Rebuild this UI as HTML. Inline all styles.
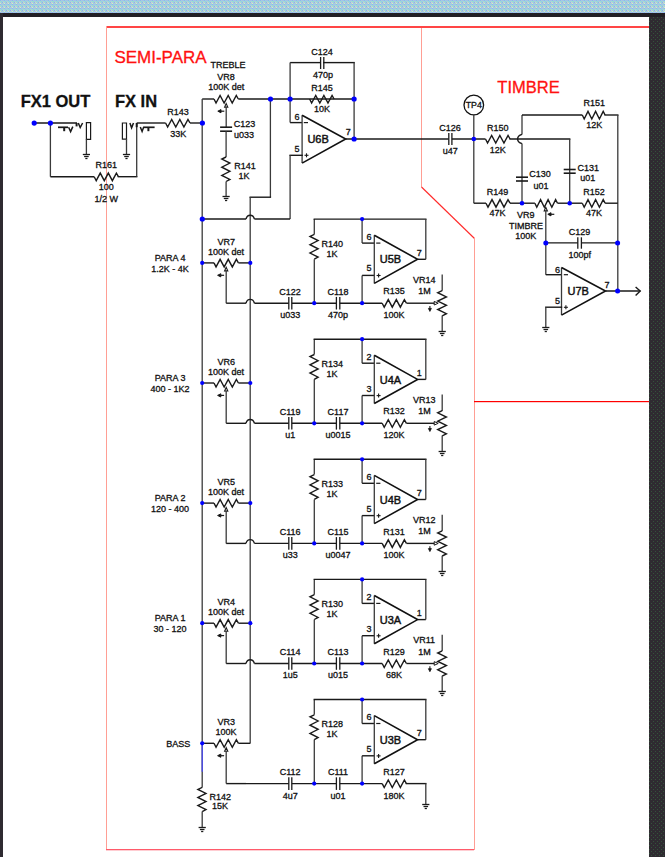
<!DOCTYPE html>
<html><head><meta charset="utf-8"><style>
html,body{margin:0;padding:0;background:#fff;}
body{width:665px;height:857px;overflow:hidden;position:relative;}
svg{position:absolute;left:0;top:0;display:block;}
text{font-family:"Liberation Sans",sans-serif;}
</style></head><body>
<svg width="665" height="857" viewBox="0 0 665 857">
<defs>
<pattern id="dith" width="4" height="4" patternUnits="userSpaceOnUse">
<rect width="4" height="4" fill="#a2dccf"/>
<rect x="0" y="0" width="1" height="1" fill="#8eb2f2"/>
<rect x="2" y="0" width="1" height="1" fill="#b2b0ee"/>
<rect x="1" y="1" width="1" height="1" fill="#92c2f4"/>
<rect x="3" y="2" width="1" height="1" fill="#d8c0dc"/>
<rect x="2" y="2" width="1" height="1" fill="#8eaaf2"/>
<rect x="0" y="3" width="1" height="1" fill="#e2e2c8"/>
<rect x="3" y="0" width="1" height="1" fill="#98c8ee"/>
<rect x="1" y="3" width="1" height="1" fill="#a2b6f0"/>
</pattern>
<pattern id="dark" width="4" height="4" patternUnits="userSpaceOnUse">
<rect width="4" height="4" fill="#2f2b31"/>
<rect x="1" y="1" width="1" height="1" fill="#34533a"/>
<rect x="3" y="3" width="1" height="1" fill="#34533a"/>
</pattern>
</defs>
<rect width="665" height="857" fill="#fff"/>
<rect x="0" y="0" width="665" height="13" fill="url(#dith)"/>
<rect x="0" y="13" width="665" height="4" fill="#221f25"/>
<rect x="0" y="13" width="3" height="844" fill="#2e2a31"/>
<rect x="649" y="17" width="16" height="840" fill="url(#dark)"/>
<rect x="106" y="26" width="543" height="2" fill="#ff4545"/>
<rect x="106" y="26" width="1" height="824" fill="#ff9e94"/>
<rect x="106" y="849" width="368" height="1.3" fill="#ff5a6a"/>
<rect x="421" y="28" width="1" height="159" fill="#ff9e94"/>
<line x1="421.5" y1="187" x2="474.5" y2="238.5" stroke="#ff2a2a" stroke-width="1.1"/>
<rect x="474" y="238" width="1" height="612" fill="#ff9e94"/>
<rect x="474" y="401" width="175" height="1.2" fill="#ff0000"/>
<polyline points="34,123 77,123" fill="none" stroke="#1a1a1a" stroke-width="1.4"/>
<polyline points="76.6,123 76.6,126.4" fill="none" stroke="#1a1a1a" stroke-width="2.0"/>
<polyline points="78.3,123 80.2,127.5 82.6,123" fill="none" stroke="#1a1a1a" stroke-width="1.5"/>
<polyline points="58,127.3 68,127.3" fill="none" stroke="#1a1a1a" stroke-width="1.7"/>
<polyline points="64.2,127.3 64.2,131.2" fill="none" stroke="#1a1a1a" stroke-width="2.0"/>
<polyline points="68.6,127.3 70.6,131.6 72.8,126.6" fill="none" stroke="#1a1a1a" stroke-width="1.5"/>
<path d="M86.4,122.7 H90.6 V139.3 H86.4 Z" fill="none" stroke="#1a1a1a" stroke-width="1.2"/>
<line x1="86.4" y1="139.3" x2="86.4" y2="154.7" stroke="#3a3a3a" stroke-width="1.3"/>
<polyline points="82.8,154.5 90,154.5" fill="none" stroke="#1a1a1a" stroke-width="1.3"/>
<polyline points="84.1,156.5 88.7,156.5" fill="none" stroke="#1a1a1a" stroke-width="1.3"/>
<polyline points="85.3,158.5 87.5,158.5" fill="none" stroke="#1a1a1a" stroke-width="1.3"/>
<line x1="50.4" y1="123" x2="50.4" y2="176.7" stroke="#3a3a3a" stroke-width="1.3"/>
<polyline points="50.4,176.7 94.2,176.7" fill="none" stroke="#1a1a1a" stroke-width="1.4"/>
<polyline points="94.2,176.7 96.22,180.7 100.25,173.1 104.28,180.7 108.32,173.1 112.35,180.7 116.38,173.1 118.4,176.7" fill="none" stroke="#1a1a1a" stroke-width="1.4"/>
<polyline points="118.4,176.7 136.7,176.7" fill="none" stroke="#1a1a1a" stroke-width="1.4" stroke-linecap="square"/>
<line x1="136.7" y1="176.7" x2="136.7" y2="123" stroke="#3a3a3a" stroke-width="1.3"/>
<polyline points="136.7,123 165.6,123" fill="none" stroke="#1a1a1a" stroke-width="1.4"/>
<path d="M122.4,123 H126.5 V139.2 H122.4 Z" fill="none" stroke="#1a1a1a" stroke-width="1.2"/>
<line x1="126.5" y1="139.2" x2="126.5" y2="154.8" stroke="#3a3a3a" stroke-width="1.3"/>
<polyline points="122.9,154.5 130.1,154.5" fill="none" stroke="#1a1a1a" stroke-width="1.3"/>
<polyline points="124.2,156.5 128.8,156.5" fill="none" stroke="#1a1a1a" stroke-width="1.3"/>
<polyline points="125.4,158.5 127.6,158.5" fill="none" stroke="#1a1a1a" stroke-width="1.3"/>
<polyline points="129.9,123 131.6,127.8 133.5,123" fill="none" stroke="#1a1a1a" stroke-width="1.5"/>
<polyline points="136.7,123 136.7,127.2" fill="none" stroke="#1a1a1a" stroke-width="2.0"/>
<polyline points="140.3,127 142.1,131.5 143.8,126.8" fill="none" stroke="#1a1a1a" stroke-width="1.5"/>
<polyline points="143.6,127.3 154.6,127.3" fill="none" stroke="#1a1a1a" stroke-width="1.7"/>
<polyline points="148.4,127.3 148.4,131.2" fill="none" stroke="#1a1a1a" stroke-width="2.0"/>
<text x="55.5" y="107.1" font-size="16.5" text-anchor="middle" font-weight="bold" fill="#111" stroke="#111" stroke-width="0.3">FX1 OUT</text>
<text x="136" y="107.1" font-size="16.5" text-anchor="middle" font-weight="bold" fill="#111" stroke="#111" stroke-width="0.3">FX IN</text>
<text x="106.2" y="168.3" font-size="9" text-anchor="middle" font-weight="normal" fill="#111" stroke="#111" stroke-width="0.3">R161</text>
<text x="106.2" y="189.9" font-size="9" text-anchor="middle" font-weight="normal" fill="#111" stroke="#111" stroke-width="0.3">100</text>
<text x="106.2" y="201.6" font-size="9" text-anchor="middle" font-weight="normal" fill="#111" stroke="#111" stroke-width="0.3">1/2 W</text>
<polyline points="165.6,123 167.63,127 171.7,119.4 175.77,127 179.83,119.4 183.9,127 187.97,119.4 190,123" fill="none" stroke="#1a1a1a" stroke-width="1.4"/>
<polyline points="190,123 202.2,123" fill="none" stroke="#1a1a1a" stroke-width="1.4"/>
<text x="178" y="114.5" font-size="9" text-anchor="middle" font-weight="normal" fill="#111" stroke="#111" stroke-width="0.3">R143</text>
<text x="178.2" y="136.6" font-size="9" text-anchor="middle" font-weight="normal" fill="#111" stroke="#111" stroke-width="0.3">33K</text>
<text x="114.4" y="63.3" font-size="17" text-anchor="start" font-weight="normal" fill="#ff1010" stroke="#ff1010" stroke-width="0.3">SEMI-PARA</text>
<text x="497.3" y="92.5" font-size="16.5" text-anchor="start" font-weight="normal" fill="#ff1010" stroke="#ff1010" stroke-width="0.3">TIMBRE</text>
<polyline points="202.2,99 214,99" fill="none" stroke="#1a1a1a" stroke-width="1.4"/>
<polyline points="214,99 216.03,103 220.07,95.4 224.12,103 228.18,95.4 232.22,103 236.28,95.4 238.3,99" fill="none" stroke="#1a1a1a" stroke-width="1.4"/>
<polyline points="238.3,99 354.2,99" fill="none" stroke="#1a1a1a" stroke-width="1.4"/>
<line x1="202.2" y1="99" x2="202.2" y2="787.4" stroke="#3a3a3a" stroke-width="1.3"/>
<path d="M226.2,103.5 L224.6,107.1 L227.8,107.1 Z" fill="none" stroke="#1a1a1a" stroke-width="1.1"/>
<line x1="226.2" y1="107.1" x2="226.2" y2="127" stroke="#3a3a3a" stroke-width="1.3"/>
<path d="M217.8,111.2 L221,109.6 L221,112.8 Z" fill="#111" stroke="#1a1a1a" stroke-width="1.0"/>
<polyline points="220.8,111.2 224.3,111.2" fill="none" stroke="#1a1a1a" stroke-width="1.2"/>
<polyline points="220.1,127.2 232.1,127.2" fill="none" stroke="#1a1a1a" stroke-width="1.6"/>
<polyline points="220.1,131.2 232.1,131.2" fill="none" stroke="#1a1a1a" stroke-width="1.6"/>
<line x1="226.1" y1="131.2" x2="226.1" y2="157" stroke="#3a3a3a" stroke-width="1.3"/>
<polyline points="226.1,157 221.8,159.04 229.9,163.12 221.8,167.21 229.9,171.29 221.8,175.38 229.9,179.46 226.1,181.5" fill="none" stroke="#1a1a1a" stroke-width="1.4"/>
<line x1="226.1" y1="181.5" x2="226.1" y2="196.7" stroke="#3a3a3a" stroke-width="1.3"/>
<polyline points="222.5,196.5 229.7,196.5" fill="none" stroke="#1a1a1a" stroke-width="1.3"/>
<polyline points="223.8,198.5 228.4,198.5" fill="none" stroke="#1a1a1a" stroke-width="1.3"/>
<polyline points="225,200.5 227.2,200.5" fill="none" stroke="#1a1a1a" stroke-width="1.3"/>
<text x="228" y="68.4" font-size="9" text-anchor="middle" font-weight="normal" fill="#111" stroke="#111" stroke-width="0.3">TREBLE</text>
<text x="226.1" y="79.8" font-size="9" text-anchor="middle" font-weight="normal" fill="#111" stroke="#111" stroke-width="0.3">VR8</text>
<text x="226.2" y="90.3" font-size="9" text-anchor="middle" font-weight="normal" fill="#111" stroke="#111" stroke-width="0.3">100K det</text>
<text x="233.7" y="126.5" font-size="9" text-anchor="start" font-weight="normal" fill="#111" stroke="#111" stroke-width="0.3">C123</text>
<text x="234" y="138.1" font-size="9" text-anchor="start" font-weight="normal" fill="#111" stroke="#111" stroke-width="0.3">u033</text>
<text x="234.2" y="168.7" font-size="9" text-anchor="start" font-weight="normal" fill="#111" stroke="#111" stroke-width="0.3">R141</text>
<text x="244" y="178.6" font-size="9" text-anchor="middle" font-weight="normal" fill="#111" stroke="#111" stroke-width="0.3">1K</text>
<line x1="270.4" y1="99" x2="270.4" y2="197.2" stroke="#3a3a3a" stroke-width="1.3"/>
<polyline points="270.4,197.2 250.2,197.2" fill="none" stroke="#1a1a1a" stroke-width="1.4" stroke-linecap="square"/>
<line x1="250.2" y1="197.2" x2="250.2" y2="743.4" stroke="#3a3a3a" stroke-width="1.3"/>
<polyline points="290.1,62.6 320.6,62.6" fill="none" stroke="#1a1a1a" stroke-width="1.4"/>
<polyline points="323.8,62.6 354.1,62.6" fill="none" stroke="#1a1a1a" stroke-width="1.4" stroke-linecap="square"/>
<line x1="354.1" y1="62.6" x2="354.1" y2="139" stroke="#3a3a3a" stroke-width="1.3"/>
<polyline points="320.6,57 320.6,69" fill="none" stroke="#1a1a1a" stroke-width="1.3"/>
<polyline points="323.8,57 323.8,69" fill="none" stroke="#1a1a1a" stroke-width="1.3"/>
<line x1="290.1" y1="62.6" x2="290.1" y2="122.6" stroke="#3a3a3a" stroke-width="1.3"/>
<polyline points="290.1,122.6 302.1,122.6" fill="none" stroke="#1a1a1a" stroke-width="1.4"/>
<polyline points="309.6,99 311.64,103 315.73,95.4 319.81,103 323.89,95.4 327.98,103 332.06,95.4 334.1,99" fill="none" stroke="#1a1a1a" stroke-width="1.4"/>
<line x1="302.1" y1="115.3" x2="302.1" y2="163.1" stroke="#3a3a3a" stroke-width="1.3"/>
<path d="M302.1,115.3 L345.7,139 L302.1,163.1" fill="none" stroke="#111" stroke-width="1.6" stroke-linejoin="miter"/>
<polyline points="303.8,122.6 308,122.6" fill="none" stroke="#1a1a1a" stroke-width="1.2"/>
<polyline points="304.5,155.3 308.5,155.3" fill="none" stroke="#1a1a1a" stroke-width="1.1"/>
<polyline points="306.5,153.3 306.5,157.3" fill="none" stroke="#1a1a1a" stroke-width="1.1"/>
<polyline points="345.7,139 448.8,139" fill="none" stroke="#1a1a1a" stroke-width="1.4"/>
<polyline points="302.1,155.3 290.1,155.3" fill="none" stroke="#1a1a1a" stroke-width="1.4" stroke-linecap="square"/>
<line x1="290.1" y1="155.3" x2="290.1" y2="219" stroke="#3a3a3a" stroke-width="1.3"/>
<polyline points="290.1,219 254.4,219" fill="none" stroke="#1a1a1a" stroke-width="1.4"/>
<path d="M246,219 C247,215.2 248.7,215.2 250.2,215.2 C251.7,215.2 253.4,215.2 254.4,219" fill="none" stroke="#1a1a1a" stroke-width="1.4"/>
<polyline points="246,219 202.2,219" fill="none" stroke="#1a1a1a" stroke-width="1.4"/>
<text x="322" y="54.8" font-size="9" text-anchor="middle" font-weight="normal" fill="#111" stroke="#111" stroke-width="0.3">C124</text>
<text x="323" y="77.6" font-size="9" text-anchor="middle" font-weight="normal" fill="#111" stroke="#111" stroke-width="0.3">470p</text>
<text x="322" y="90.5" font-size="9" text-anchor="middle" font-weight="normal" fill="#111" stroke="#111" stroke-width="0.3">R145</text>
<text x="322" y="112.1" font-size="9" text-anchor="middle" font-weight="normal" fill="#111" stroke="#111" stroke-width="0.3">10K</text>
<text x="297" y="120" font-size="9" text-anchor="middle" font-weight="normal" fill="#111" stroke="#111" stroke-width="0.3">6</text>
<text x="297" y="152" font-size="9" text-anchor="middle" font-weight="normal" fill="#111" stroke="#111" stroke-width="0.3">5</text>
<text x="348.3" y="135.1" font-size="9" text-anchor="middle" font-weight="normal" fill="#111" stroke="#111" stroke-width="0.3">7</text>
<text x="307.4" y="143.1" font-size="11" text-anchor="start" font-weight="normal" fill="#111" stroke="#111" stroke-width="0.45">U6B</text>
<polyline points="448.8,133 448.8,145" fill="none" stroke="#1a1a1a" stroke-width="1.3"/>
<polyline points="451.9,133 451.9,145" fill="none" stroke="#1a1a1a" stroke-width="1.3"/>
<polyline points="451.9,139 485.5,139" fill="none" stroke="#1a1a1a" stroke-width="1.4"/>
<circle cx="473.8" cy="105" r="9.8" fill="none" stroke="#111" stroke-width="1.3"/>
<text x="473.8" y="108.4" font-size="8.8" text-anchor="middle" font-weight="normal" fill="#111" stroke="#111" stroke-width="0.3">TP4</text>
<line x1="473.8" y1="114.8" x2="473.8" y2="203.2" stroke="#3a3a3a" stroke-width="1.3"/>
<polyline points="473.8,203.2 486,203.2" fill="none" stroke="#1a1a1a" stroke-width="1.4"/>
<text x="450" y="130.8" font-size="9" text-anchor="middle" font-weight="normal" fill="#111" stroke="#111" stroke-width="0.3">C126</text>
<text x="450.2" y="154.1" font-size="9" text-anchor="middle" font-weight="normal" fill="#111" stroke="#111" stroke-width="0.3">u47</text>
<polyline points="485.5,139 487.55,143 491.65,135.4 495.75,143 499.85,135.4 503.95,143 508.05,135.4 510.1,139" fill="none" stroke="#1a1a1a" stroke-width="1.4"/>
<polyline points="510.1,139 569.7,139" fill="none" stroke="#1a1a1a" stroke-width="1.4" stroke-linecap="square"/>
<line x1="569.7" y1="139" x2="569.7" y2="203.2" stroke="#3a3a3a" stroke-width="1.3"/>
<line x1="522" y1="115" x2="522" y2="134.4" stroke="#3a3a3a" stroke-width="1.3"/>
<path d="M522,134.4 C519.2,135.2 517.6,137 517.6,139 C517.6,141 519.2,142.8 522,143.6" fill="none" stroke="#1a1a1a" stroke-width="1.4"/>
<line x1="522" y1="143.6" x2="522" y2="203.2" stroke="#3a3a3a" stroke-width="1.3"/>
<polyline points="522,115 582.3,115" fill="none" stroke="#1a1a1a" stroke-width="1.4"/>
<polyline points="582.3,115 584.2,119 588,111.4 591.8,119 595.6,111.4 599.4,119 603.2,111.4 605.1,115" fill="none" stroke="#1a1a1a" stroke-width="1.4"/>
<polyline points="605.1,115 617.8,115" fill="none" stroke="#1a1a1a" stroke-width="1.4" stroke-linecap="square"/>
<line x1="617.8" y1="115" x2="617.8" y2="291" stroke="#3a3a3a" stroke-width="1.3"/>
<polyline points="516,177.2 528,177.2" fill="none" stroke="#1a1a1a" stroke-width="1.6"/>
<polyline points="516,181 528,181" fill="none" stroke="#1a1a1a" stroke-width="1.6"/>
<polyline points="563.7,169.5 575.7,169.5" fill="none" stroke="#1a1a1a" stroke-width="1.6"/>
<polyline points="563.7,173.2 575.7,173.2" fill="none" stroke="#1a1a1a" stroke-width="1.6"/>
<polyline points="486,203.2 488,207.2 492,199.6 496,207.2 500,199.6 504,207.2 508,199.6 510,203.2" fill="none" stroke="#1a1a1a" stroke-width="1.4"/>
<polyline points="510,203.2 534.9,203.2" fill="none" stroke="#1a1a1a" stroke-width="1.4"/>
<polyline points="534.9,203.2 536.78,207.2 540.55,199.6 544.32,207.2 548.08,199.6 551.85,207.2 555.62,199.6 557.5,203.2" fill="none" stroke="#1a1a1a" stroke-width="1.4"/>
<polyline points="557.5,203.2 582.3,203.2" fill="none" stroke="#1a1a1a" stroke-width="1.4"/>
<polyline points="582.3,203.2 584.2,207.2 588,199.6 591.8,207.2 595.6,199.6 599.4,207.2 603.2,199.6 605.1,203.2" fill="none" stroke="#1a1a1a" stroke-width="1.4"/>
<polyline points="605.1,203.2 617.8,203.2" fill="none" stroke="#1a1a1a" stroke-width="1.4"/>
<path d="M545.8,207.3 L544.2,210.9 L547.4,210.9 Z" fill="none" stroke="#1a1a1a" stroke-width="1.1"/>
<line x1="545.8" y1="210.9" x2="545.8" y2="242.9" stroke="#3a3a3a" stroke-width="1.3"/>
<path d="M547.8,214.3 L551,212.7 L551,215.9 Z" fill="#111" stroke="#1a1a1a" stroke-width="1.0"/>
<polyline points="550.8,214.3 554.3,214.3" fill="none" stroke="#1a1a1a" stroke-width="1.2"/>
<polyline points="545.8,242.9 577.8,242.9" fill="none" stroke="#1a1a1a" stroke-width="1.4"/>
<polyline points="581.4,242.9 617.8,242.9" fill="none" stroke="#1a1a1a" stroke-width="1.4"/>
<polyline points="577.8,237.3 577.8,248.7" fill="none" stroke="#1a1a1a" stroke-width="1.3"/>
<polyline points="581.4,237.3 581.4,248.7" fill="none" stroke="#1a1a1a" stroke-width="1.3"/>
<line x1="545.8" y1="242.9" x2="545.8" y2="274.7" stroke="#3a3a3a" stroke-width="1.3"/>
<polyline points="545.8,274.7 561.5,274.7" fill="none" stroke="#1a1a1a" stroke-width="1.4"/>
<line x1="561.5" y1="267.5" x2="561.5" y2="315.1" stroke="#3a3a3a" stroke-width="1.3"/>
<path d="M561.5,267.5 L605.5,291 L561.5,315.1" fill="none" stroke="#111" stroke-width="1.6" stroke-linejoin="miter"/>
<polyline points="563.8,274.7 568,274.7" fill="none" stroke="#1a1a1a" stroke-width="1.2"/>
<polyline points="563.9,307.3 567.9,307.3" fill="none" stroke="#1a1a1a" stroke-width="1.1"/>
<polyline points="565.9,305.3 565.9,309.3" fill="none" stroke="#1a1a1a" stroke-width="1.1"/>
<polyline points="605.5,291 640.4,291" fill="none" stroke="#1a1a1a" stroke-width="1.4"/>
<polyline points="635.6,286.9 640.2,291.1 635.6,295.4" fill="none" stroke="#1a1a1a" stroke-width="1.4"/>
<polyline points="561.5,307.2 545.8,307.2" fill="none" stroke="#1a1a1a" stroke-width="1.4" stroke-linecap="square"/>
<line x1="545.8" y1="307.2" x2="545.8" y2="327.2" stroke="#3a3a3a" stroke-width="1.3"/>
<polyline points="542.2,327.5 549.4,327.5" fill="none" stroke="#1a1a1a" stroke-width="1.3"/>
<polyline points="543.5,329.5 548.1,329.5" fill="none" stroke="#1a1a1a" stroke-width="1.3"/>
<polyline points="544.7,331.5 546.9,331.5" fill="none" stroke="#1a1a1a" stroke-width="1.3"/>
<text x="594.3" y="106.4" font-size="9" text-anchor="middle" font-weight="normal" fill="#111" stroke="#111" stroke-width="0.3">R151</text>
<text x="594.3" y="128.1" font-size="9" text-anchor="middle" font-weight="normal" fill="#111" stroke="#111" stroke-width="0.3">12K</text>
<text x="497.8" y="130.6" font-size="9" text-anchor="middle" font-weight="normal" fill="#111" stroke="#111" stroke-width="0.3">R150</text>
<text x="497.8" y="152.6" font-size="9" text-anchor="middle" font-weight="normal" fill="#111" stroke="#111" stroke-width="0.3">12K</text>
<text x="529.3" y="176.7" font-size="9" text-anchor="start" font-weight="normal" fill="#111" stroke="#111" stroke-width="0.3">C130</text>
<text x="533.4" y="189.1" font-size="9" text-anchor="start" font-weight="normal" fill="#111" stroke="#111" stroke-width="0.3">u01</text>
<text x="577.5" y="171.1" font-size="9" text-anchor="start" font-weight="normal" fill="#111" stroke="#111" stroke-width="0.3">C131</text>
<text x="580.2" y="181.3" font-size="9" text-anchor="start" font-weight="normal" fill="#111" stroke="#111" stroke-width="0.3">u01</text>
<text x="497.5" y="195.1" font-size="9" text-anchor="middle" font-weight="normal" fill="#111" stroke="#111" stroke-width="0.3">R149</text>
<text x="497.5" y="216.2" font-size="9" text-anchor="middle" font-weight="normal" fill="#111" stroke="#111" stroke-width="0.3">47K</text>
<text x="594" y="195.1" font-size="9" text-anchor="middle" font-weight="normal" fill="#111" stroke="#111" stroke-width="0.3">R152</text>
<text x="594" y="216.2" font-size="9" text-anchor="middle" font-weight="normal" fill="#111" stroke="#111" stroke-width="0.3">47K</text>
<text x="525.8" y="218.2" font-size="9" text-anchor="middle" font-weight="normal" fill="#111" stroke="#111" stroke-width="0.3">VR9</text>
<text x="525.9" y="228.6" font-size="9" text-anchor="middle" font-weight="normal" fill="#111" stroke="#111" stroke-width="0.3">TIMBRE</text>
<text x="525.7" y="239.1" font-size="9" text-anchor="middle" font-weight="normal" fill="#111" stroke="#111" stroke-width="0.3">100K</text>
<text x="579.6" y="235.1" font-size="9" text-anchor="middle" font-weight="normal" fill="#111" stroke="#111" stroke-width="0.3">C129</text>
<text x="579.8" y="258.1" font-size="9" text-anchor="middle" font-weight="normal" fill="#111" stroke="#111" stroke-width="0.3">100pf</text>
<text x="557.6" y="272.8" font-size="9" text-anchor="middle" font-weight="normal" fill="#111" stroke="#111" stroke-width="0.3">6</text>
<text x="557.6" y="304.2" font-size="9" text-anchor="middle" font-weight="normal" fill="#111" stroke="#111" stroke-width="0.3">5</text>
<text x="607" y="287.7" font-size="9" text-anchor="middle" font-weight="normal" fill="#111" stroke="#111" stroke-width="0.3">7</text>
<text x="567.5" y="295.1" font-size="11" text-anchor="start" font-weight="normal" fill="#111" stroke="#111" stroke-width="0.45">U7B</text>
<polyline points="202.2,262.9 214,262.9" fill="none" stroke="#1a1a1a" stroke-width="1.4"/>
<polyline points="214,262.9 216.03,266.9 220.1,259.3 224.17,266.9 228.23,259.3 232.3,266.9 236.37,259.3 238.4,262.9" fill="none" stroke="#1a1a1a" stroke-width="1.4"/>
<polyline points="238.4,262.9 250.2,262.9" fill="none" stroke="#1a1a1a" stroke-width="1.4"/>
<path d="M226.2,267.3 L224.6,270.9 L227.8,270.9 Z" fill="none" stroke="#1a1a1a" stroke-width="1.1"/>
<line x1="226.2" y1="270.9" x2="226.2" y2="303.2" stroke="#3a3a3a" stroke-width="1.3"/>
<path d="M217.6,275.3 L220.8,273.7 L220.8,276.9 Z" fill="#111" stroke="#1a1a1a" stroke-width="1.0"/>
<polyline points="220.6,275.3 224.1,275.3" fill="none" stroke="#1a1a1a" stroke-width="1.2"/>
<polyline points="226.2,303.2 246,303.2" fill="none" stroke="#1a1a1a" stroke-width="1.4"/>
<path d="M246,303.2 C247,299.4 248.7,299.4 250.2,299.4 C251.7,299.4 253.4,299.4 254.4,303.2" fill="none" stroke="#1a1a1a" stroke-width="1.4"/>
<polyline points="254.4,303.2 288.8,303.2" fill="none" stroke="#1a1a1a" stroke-width="1.4"/>
<polyline points="288.8,296.9 288.8,309.5" fill="none" stroke="#1a1a1a" stroke-width="1.3"/>
<polyline points="291.8,296.9 291.8,309.5" fill="none" stroke="#1a1a1a" stroke-width="1.3"/>
<polyline points="291.8,303.2 336.4,303.2" fill="none" stroke="#1a1a1a" stroke-width="1.4"/>
<polyline points="336.4,296.9 336.4,309.5" fill="none" stroke="#1a1a1a" stroke-width="1.3"/>
<polyline points="339.8,296.9 339.8,309.5" fill="none" stroke="#1a1a1a" stroke-width="1.3"/>
<polyline points="339.8,303.2 382.2,303.2" fill="none" stroke="#1a1a1a" stroke-width="1.4"/>
<polyline points="382.2,303.2 384.22,307.2 388.25,299.6 392.28,307.2 396.32,299.6 400.35,307.2 404.38,299.6 406.4,303.2" fill="none" stroke="#1a1a1a" stroke-width="1.4"/>
<line x1="314.3" y1="303.2" x2="314.3" y2="259.2" stroke="#3a3a3a" stroke-width="1.3"/>
<polyline points="314.3,234.4 310,236.47 318.1,240.6 310,244.73 318.1,248.87 310,253 318.1,257.13 314.3,259.2" fill="none" stroke="#1a1a1a" stroke-width="1.4"/>
<line x1="314.3" y1="234.4" x2="314.3" y2="219.1" stroke="#3a3a3a" stroke-width="1.3"/>
<polyline points="314.3,219.1 425.8,219.1" fill="none" stroke="#1a1a1a" stroke-width="1.4" stroke-linecap="square"/>
<line x1="425.8" y1="219.1" x2="425.8" y2="259.3" stroke="#3a3a3a" stroke-width="1.3"/>
<polyline points="425.8,259.3 417.6,259.3" fill="none" stroke="#1a1a1a" stroke-width="1.4"/>
<line x1="362.1" y1="219.1" x2="362.1" y2="243.1" stroke="#3a3a3a" stroke-width="1.3"/>
<polyline points="362.1,243.1 374.3,243.1" fill="none" stroke="#1a1a1a" stroke-width="1.4"/>
<line x1="362.1" y1="303.2" x2="362.1" y2="275.4" stroke="#3a3a3a" stroke-width="1.3"/>
<polyline points="362.1,275.4 374.3,275.4" fill="none" stroke="#1a1a1a" stroke-width="1.4"/>
<line x1="374.3" y1="235.2" x2="374.3" y2="283.4" stroke="#3a3a3a" stroke-width="1.3"/>
<path d="M374.3,235.2 L417.6,259.3 L374.3,283.4" fill="none" stroke="#111" stroke-width="1.6" stroke-linejoin="miter"/>
<polyline points="376.2,243.1 380.4,243.1" fill="none" stroke="#1a1a1a" stroke-width="1.2"/>
<polyline points="376.6,275.5 380.6,275.5" fill="none" stroke="#1a1a1a" stroke-width="1.1"/>
<polyline points="378.6,273.5 378.6,277.5" fill="none" stroke="#1a1a1a" stroke-width="1.1"/>
<polyline points="406.4,303.2 434.2,303.2" fill="none" stroke="#1a1a1a" stroke-width="1.4"/>
<path d="M438.2,303.2 L434.2,301.4 L434.2,305 Z" fill="none" stroke="#1a1a1a" stroke-width="1.0"/>
<line x1="442.2" y1="274.5" x2="442.2" y2="290.8" stroke="#3a3a3a" stroke-width="1.3"/>
<polyline points="442.2,290.6 437.7,292.7 446.4,296.9 437.7,301.1 446.4,305.3 437.7,309.5 446.4,313.7 442.2,315.8" fill="none" stroke="#1a1a1a" stroke-width="1.4"/>
<line x1="442.2" y1="315.5" x2="442.2" y2="331.4" stroke="#3a3a3a" stroke-width="1.3"/>
<polyline points="438.6,331.5 445.8,331.5" fill="none" stroke="#1a1a1a" stroke-width="1.3"/>
<polyline points="439.9,333.5 444.5,333.5" fill="none" stroke="#1a1a1a" stroke-width="1.3"/>
<polyline points="441.1,335.5 443.3,335.5" fill="none" stroke="#1a1a1a" stroke-width="1.3"/>
<polyline points="429.9,306 429.9,310" fill="none" stroke="#1a1a1a" stroke-width="1.1"/>
<path d="M428.4,308.4 L431.4,308.4 L429.9,311.4 Z" fill="#111" stroke="#1a1a1a" stroke-width="0.8"/>
<text x="424.2" y="283.1" font-size="9" text-anchor="middle" font-weight="normal" fill="#111" stroke="#111" stroke-width="0.3">VR14</text>
<text x="424.4" y="294.2" font-size="9" text-anchor="middle" font-weight="normal" fill="#111" stroke="#111" stroke-width="0.3">1M</text>
<text x="170.2" y="261.1" font-size="9" text-anchor="middle" font-weight="normal" fill="#111" stroke="#111" stroke-width="0.3">PARA 4</text>
<text x="170" y="271.6" font-size="9" text-anchor="middle" font-weight="normal" fill="#111" stroke="#111" stroke-width="0.3">1.2K - 4K</text>
<text x="226.3" y="244.6" font-size="9" text-anchor="middle" font-weight="normal" fill="#111" stroke="#111" stroke-width="0.3">VR7</text>
<text x="226" y="254.7" font-size="9" text-anchor="middle" font-weight="normal" fill="#111" stroke="#111" stroke-width="0.3">100K det</text>
<text x="321.4" y="246.8" font-size="9" text-anchor="start" font-weight="normal" fill="#111" stroke="#111" stroke-width="0.3">R140</text>
<text x="332.1" y="256.7" font-size="9" text-anchor="middle" font-weight="normal" fill="#111" stroke="#111" stroke-width="0.3">1K</text>
<text x="369.1" y="239.5" font-size="9" text-anchor="middle" font-weight="normal" fill="#111" stroke="#111" stroke-width="0.3">6</text>
<text x="369.1" y="271.4" font-size="9" text-anchor="middle" font-weight="normal" fill="#111" stroke="#111" stroke-width="0.3">5</text>
<text x="419.2" y="255.8" font-size="9" text-anchor="middle" font-weight="normal" fill="#111" stroke="#111" stroke-width="0.3">7</text>
<text x="379.7" y="263.4" font-size="11" text-anchor="start" font-weight="normal" fill="#111" stroke="#111" stroke-width="0.45">U5B</text>
<text x="290.1" y="294.5" font-size="9" text-anchor="middle" font-weight="normal" fill="#111" stroke="#111" stroke-width="0.3">C122</text>
<text x="290.2" y="318.1" font-size="9" text-anchor="middle" font-weight="normal" fill="#111" stroke="#111" stroke-width="0.3">u033</text>
<text x="338" y="294.5" font-size="9" text-anchor="middle" font-weight="normal" fill="#111" stroke="#111" stroke-width="0.3">C118</text>
<text x="338" y="318.1" font-size="9" text-anchor="middle" font-weight="normal" fill="#111" stroke="#111" stroke-width="0.3">470p</text>
<text x="393.9" y="294.3" font-size="9" text-anchor="middle" font-weight="normal" fill="#111" stroke="#111" stroke-width="0.3">R135</text>
<text x="393.9" y="318.1" font-size="9" text-anchor="middle" font-weight="normal" fill="#111" stroke="#111" stroke-width="0.3">100K</text>
<polyline points="202.2,383 214,383" fill="none" stroke="#1a1a1a" stroke-width="1.4"/>
<polyline points="214,383 216.03,387 220.1,379.4 224.17,387 228.23,379.4 232.3,387 236.37,379.4 238.4,383" fill="none" stroke="#1a1a1a" stroke-width="1.4"/>
<polyline points="238.4,383 250.2,383" fill="none" stroke="#1a1a1a" stroke-width="1.4"/>
<path d="M226.2,387.4 L224.6,391 L227.8,391 Z" fill="none" stroke="#1a1a1a" stroke-width="1.1"/>
<line x1="226.2" y1="391" x2="226.2" y2="423.3" stroke="#3a3a3a" stroke-width="1.3"/>
<path d="M217.6,395.4 L220.8,393.8 L220.8,397 Z" fill="#111" stroke="#1a1a1a" stroke-width="1.0"/>
<polyline points="220.6,395.4 224.1,395.4" fill="none" stroke="#1a1a1a" stroke-width="1.2"/>
<polyline points="226.2,423.3 246,423.3" fill="none" stroke="#1a1a1a" stroke-width="1.4"/>
<path d="M246,423.3 C247,419.5 248.7,419.5 250.2,419.5 C251.7,419.5 253.4,419.5 254.4,423.3" fill="none" stroke="#1a1a1a" stroke-width="1.4"/>
<polyline points="254.4,423.3 288.8,423.3" fill="none" stroke="#1a1a1a" stroke-width="1.4"/>
<polyline points="288.8,417 288.8,429.6" fill="none" stroke="#1a1a1a" stroke-width="1.3"/>
<polyline points="291.8,417 291.8,429.6" fill="none" stroke="#1a1a1a" stroke-width="1.3"/>
<polyline points="291.8,423.3 336.4,423.3" fill="none" stroke="#1a1a1a" stroke-width="1.4"/>
<polyline points="336.4,417 336.4,429.6" fill="none" stroke="#1a1a1a" stroke-width="1.3"/>
<polyline points="339.8,417 339.8,429.6" fill="none" stroke="#1a1a1a" stroke-width="1.3"/>
<polyline points="339.8,423.3 382.2,423.3" fill="none" stroke="#1a1a1a" stroke-width="1.4"/>
<polyline points="382.2,423.3 384.22,427.3 388.25,419.7 392.28,427.3 396.32,419.7 400.35,427.3 404.38,419.7 406.4,423.3" fill="none" stroke="#1a1a1a" stroke-width="1.4"/>
<line x1="314.3" y1="423.3" x2="314.3" y2="379.3" stroke="#3a3a3a" stroke-width="1.3"/>
<polyline points="314.3,354.5 310,356.57 318.1,360.7 310,364.83 318.1,368.97 310,373.1 318.1,377.23 314.3,379.3" fill="none" stroke="#1a1a1a" stroke-width="1.4"/>
<line x1="314.3" y1="354.5" x2="314.3" y2="339.2" stroke="#3a3a3a" stroke-width="1.3"/>
<polyline points="314.3,339.2 425.8,339.2" fill="none" stroke="#1a1a1a" stroke-width="1.4" stroke-linecap="square"/>
<line x1="425.8" y1="339.2" x2="425.8" y2="379.4" stroke="#3a3a3a" stroke-width="1.3"/>
<polyline points="425.8,379.4 417.6,379.4" fill="none" stroke="#1a1a1a" stroke-width="1.4"/>
<line x1="362.1" y1="339.2" x2="362.1" y2="363.2" stroke="#3a3a3a" stroke-width="1.3"/>
<polyline points="362.1,363.2 374.3,363.2" fill="none" stroke="#1a1a1a" stroke-width="1.4"/>
<line x1="362.1" y1="423.3" x2="362.1" y2="395.5" stroke="#3a3a3a" stroke-width="1.3"/>
<polyline points="362.1,395.5 374.3,395.5" fill="none" stroke="#1a1a1a" stroke-width="1.4"/>
<line x1="374.3" y1="355.3" x2="374.3" y2="403.5" stroke="#3a3a3a" stroke-width="1.3"/>
<path d="M374.3,355.3 L417.6,379.4 L374.3,403.5" fill="none" stroke="#111" stroke-width="1.6" stroke-linejoin="miter"/>
<polyline points="376.2,363.2 380.4,363.2" fill="none" stroke="#1a1a1a" stroke-width="1.2"/>
<polyline points="376.6,395.6 380.6,395.6" fill="none" stroke="#1a1a1a" stroke-width="1.1"/>
<polyline points="378.6,393.6 378.6,397.6" fill="none" stroke="#1a1a1a" stroke-width="1.1"/>
<polyline points="406.4,423.3 434.2,423.3" fill="none" stroke="#1a1a1a" stroke-width="1.4"/>
<path d="M438.2,423.3 L434.2,421.5 L434.2,425.1 Z" fill="none" stroke="#1a1a1a" stroke-width="1.0"/>
<line x1="442.2" y1="394.6" x2="442.2" y2="410.9" stroke="#3a3a3a" stroke-width="1.3"/>
<polyline points="442.2,410.7 437.7,412.8 446.4,417 437.7,421.2 446.4,425.4 437.7,429.6 446.4,433.8 442.2,435.9" fill="none" stroke="#1a1a1a" stroke-width="1.4"/>
<line x1="442.2" y1="435.6" x2="442.2" y2="451.5" stroke="#3a3a3a" stroke-width="1.3"/>
<polyline points="438.6,451.5 445.8,451.5" fill="none" stroke="#1a1a1a" stroke-width="1.3"/>
<polyline points="439.9,453.5 444.5,453.5" fill="none" stroke="#1a1a1a" stroke-width="1.3"/>
<polyline points="441.1,455.5 443.3,455.5" fill="none" stroke="#1a1a1a" stroke-width="1.3"/>
<polyline points="429.9,426.1 429.9,430.1" fill="none" stroke="#1a1a1a" stroke-width="1.1"/>
<path d="M428.4,428.5 L431.4,428.5 L429.9,431.5 Z" fill="#111" stroke="#1a1a1a" stroke-width="0.8"/>
<text x="424.2" y="403.2" font-size="9" text-anchor="middle" font-weight="normal" fill="#111" stroke="#111" stroke-width="0.3">VR13</text>
<text x="424.4" y="414.3" font-size="9" text-anchor="middle" font-weight="normal" fill="#111" stroke="#111" stroke-width="0.3">1M</text>
<text x="170.2" y="381.2" font-size="9" text-anchor="middle" font-weight="normal" fill="#111" stroke="#111" stroke-width="0.3">PARA 3</text>
<text x="170" y="391.7" font-size="9" text-anchor="middle" font-weight="normal" fill="#111" stroke="#111" stroke-width="0.3">400 - 1K2</text>
<text x="226.3" y="364.7" font-size="9" text-anchor="middle" font-weight="normal" fill="#111" stroke="#111" stroke-width="0.3">VR6</text>
<text x="226" y="374.8" font-size="9" text-anchor="middle" font-weight="normal" fill="#111" stroke="#111" stroke-width="0.3">100K det</text>
<text x="321.4" y="366.9" font-size="9" text-anchor="start" font-weight="normal" fill="#111" stroke="#111" stroke-width="0.3">R134</text>
<text x="332.1" y="376.8" font-size="9" text-anchor="middle" font-weight="normal" fill="#111" stroke="#111" stroke-width="0.3">1K</text>
<text x="369.1" y="359.6" font-size="9" text-anchor="middle" font-weight="normal" fill="#111" stroke="#111" stroke-width="0.3">2</text>
<text x="369.1" y="391.5" font-size="9" text-anchor="middle" font-weight="normal" fill="#111" stroke="#111" stroke-width="0.3">3</text>
<text x="419.2" y="375.9" font-size="9" text-anchor="middle" font-weight="normal" fill="#111" stroke="#111" stroke-width="0.3">1</text>
<text x="379.7" y="383.5" font-size="11" text-anchor="start" font-weight="normal" fill="#111" stroke="#111" stroke-width="0.45">U4A</text>
<text x="290.1" y="414.6" font-size="9" text-anchor="middle" font-weight="normal" fill="#111" stroke="#111" stroke-width="0.3">C119</text>
<text x="290.2" y="438.2" font-size="9" text-anchor="middle" font-weight="normal" fill="#111" stroke="#111" stroke-width="0.3">u1</text>
<text x="338" y="414.6" font-size="9" text-anchor="middle" font-weight="normal" fill="#111" stroke="#111" stroke-width="0.3">C117</text>
<text x="338" y="438.2" font-size="9" text-anchor="middle" font-weight="normal" fill="#111" stroke="#111" stroke-width="0.3">u0015</text>
<text x="393.9" y="414.4" font-size="9" text-anchor="middle" font-weight="normal" fill="#111" stroke="#111" stroke-width="0.3">R132</text>
<text x="393.9" y="438.2" font-size="9" text-anchor="middle" font-weight="normal" fill="#111" stroke="#111" stroke-width="0.3">120K</text>
<polyline points="202.2,503.1 214,503.1" fill="none" stroke="#1a1a1a" stroke-width="1.4"/>
<polyline points="214,503.1 216.03,507.1 220.1,499.5 224.17,507.1 228.23,499.5 232.3,507.1 236.37,499.5 238.4,503.1" fill="none" stroke="#1a1a1a" stroke-width="1.4"/>
<polyline points="238.4,503.1 250.2,503.1" fill="none" stroke="#1a1a1a" stroke-width="1.4"/>
<path d="M226.2,507.5 L224.6,511.1 L227.8,511.1 Z" fill="none" stroke="#1a1a1a" stroke-width="1.1"/>
<line x1="226.2" y1="511.1" x2="226.2" y2="543.4" stroke="#3a3a3a" stroke-width="1.3"/>
<path d="M217.6,515.5 L220.8,513.9 L220.8,517.1 Z" fill="#111" stroke="#1a1a1a" stroke-width="1.0"/>
<polyline points="220.6,515.5 224.1,515.5" fill="none" stroke="#1a1a1a" stroke-width="1.2"/>
<polyline points="226.2,543.4 246,543.4" fill="none" stroke="#1a1a1a" stroke-width="1.4"/>
<path d="M246,543.4 C247,539.6 248.7,539.6 250.2,539.6 C251.7,539.6 253.4,539.6 254.4,543.4" fill="none" stroke="#1a1a1a" stroke-width="1.4"/>
<polyline points="254.4,543.4 288.8,543.4" fill="none" stroke="#1a1a1a" stroke-width="1.4"/>
<polyline points="288.8,537.1 288.8,549.7" fill="none" stroke="#1a1a1a" stroke-width="1.3"/>
<polyline points="291.8,537.1 291.8,549.7" fill="none" stroke="#1a1a1a" stroke-width="1.3"/>
<polyline points="291.8,543.4 336.4,543.4" fill="none" stroke="#1a1a1a" stroke-width="1.4"/>
<polyline points="336.4,537.1 336.4,549.7" fill="none" stroke="#1a1a1a" stroke-width="1.3"/>
<polyline points="339.8,537.1 339.8,549.7" fill="none" stroke="#1a1a1a" stroke-width="1.3"/>
<polyline points="339.8,543.4 382.2,543.4" fill="none" stroke="#1a1a1a" stroke-width="1.4"/>
<polyline points="382.2,543.4 384.22,547.4 388.25,539.8 392.28,547.4 396.32,539.8 400.35,547.4 404.38,539.8 406.4,543.4" fill="none" stroke="#1a1a1a" stroke-width="1.4"/>
<line x1="314.3" y1="543.4" x2="314.3" y2="499.4" stroke="#3a3a3a" stroke-width="1.3"/>
<polyline points="314.3,474.6 310,476.67 318.1,480.8 310,484.93 318.1,489.07 310,493.2 318.1,497.33 314.3,499.4" fill="none" stroke="#1a1a1a" stroke-width="1.4"/>
<line x1="314.3" y1="474.6" x2="314.3" y2="459.3" stroke="#3a3a3a" stroke-width="1.3"/>
<polyline points="314.3,459.3 425.8,459.3" fill="none" stroke="#1a1a1a" stroke-width="1.4" stroke-linecap="square"/>
<line x1="425.8" y1="459.3" x2="425.8" y2="499.5" stroke="#3a3a3a" stroke-width="1.3"/>
<polyline points="425.8,499.5 417.6,499.5" fill="none" stroke="#1a1a1a" stroke-width="1.4"/>
<line x1="362.1" y1="459.3" x2="362.1" y2="483.3" stroke="#3a3a3a" stroke-width="1.3"/>
<polyline points="362.1,483.3 374.3,483.3" fill="none" stroke="#1a1a1a" stroke-width="1.4"/>
<line x1="362.1" y1="543.4" x2="362.1" y2="515.6" stroke="#3a3a3a" stroke-width="1.3"/>
<polyline points="362.1,515.6 374.3,515.6" fill="none" stroke="#1a1a1a" stroke-width="1.4"/>
<line x1="374.3" y1="475.4" x2="374.3" y2="523.6" stroke="#3a3a3a" stroke-width="1.3"/>
<path d="M374.3,475.4 L417.6,499.5 L374.3,523.6" fill="none" stroke="#111" stroke-width="1.6" stroke-linejoin="miter"/>
<polyline points="376.2,483.3 380.4,483.3" fill="none" stroke="#1a1a1a" stroke-width="1.2"/>
<polyline points="376.6,515.7 380.6,515.7" fill="none" stroke="#1a1a1a" stroke-width="1.1"/>
<polyline points="378.6,513.7 378.6,517.7" fill="none" stroke="#1a1a1a" stroke-width="1.1"/>
<polyline points="406.4,543.4 434.2,543.4" fill="none" stroke="#1a1a1a" stroke-width="1.4"/>
<path d="M438.2,543.4 L434.2,541.6 L434.2,545.2 Z" fill="none" stroke="#1a1a1a" stroke-width="1.0"/>
<line x1="442.2" y1="514.7" x2="442.2" y2="531" stroke="#3a3a3a" stroke-width="1.3"/>
<polyline points="442.2,530.8 437.7,532.9 446.4,537.1 437.7,541.3 446.4,545.5 437.7,549.7 446.4,553.9 442.2,556" fill="none" stroke="#1a1a1a" stroke-width="1.4"/>
<line x1="442.2" y1="555.7" x2="442.2" y2="571.6" stroke="#3a3a3a" stroke-width="1.3"/>
<polyline points="438.6,571.5 445.8,571.5" fill="none" stroke="#1a1a1a" stroke-width="1.3"/>
<polyline points="439.9,573.5 444.5,573.5" fill="none" stroke="#1a1a1a" stroke-width="1.3"/>
<polyline points="441.1,575.5 443.3,575.5" fill="none" stroke="#1a1a1a" stroke-width="1.3"/>
<polyline points="429.9,546.2 429.9,550.2" fill="none" stroke="#1a1a1a" stroke-width="1.1"/>
<path d="M428.4,548.6 L431.4,548.6 L429.9,551.6 Z" fill="#111" stroke="#1a1a1a" stroke-width="0.8"/>
<text x="424.2" y="523.3" font-size="9" text-anchor="middle" font-weight="normal" fill="#111" stroke="#111" stroke-width="0.3">VR12</text>
<text x="424.4" y="534.4" font-size="9" text-anchor="middle" font-weight="normal" fill="#111" stroke="#111" stroke-width="0.3">1M</text>
<text x="170.2" y="501.3" font-size="9" text-anchor="middle" font-weight="normal" fill="#111" stroke="#111" stroke-width="0.3">PARA 2</text>
<text x="170" y="511.8" font-size="9" text-anchor="middle" font-weight="normal" fill="#111" stroke="#111" stroke-width="0.3">120 - 400</text>
<text x="226.3" y="484.8" font-size="9" text-anchor="middle" font-weight="normal" fill="#111" stroke="#111" stroke-width="0.3">VR5</text>
<text x="226" y="494.9" font-size="9" text-anchor="middle" font-weight="normal" fill="#111" stroke="#111" stroke-width="0.3">100K det</text>
<text x="321.4" y="487" font-size="9" text-anchor="start" font-weight="normal" fill="#111" stroke="#111" stroke-width="0.3">R133</text>
<text x="332.1" y="496.9" font-size="9" text-anchor="middle" font-weight="normal" fill="#111" stroke="#111" stroke-width="0.3">1K</text>
<text x="369.1" y="479.7" font-size="9" text-anchor="middle" font-weight="normal" fill="#111" stroke="#111" stroke-width="0.3">6</text>
<text x="369.1" y="511.6" font-size="9" text-anchor="middle" font-weight="normal" fill="#111" stroke="#111" stroke-width="0.3">5</text>
<text x="419.2" y="496" font-size="9" text-anchor="middle" font-weight="normal" fill="#111" stroke="#111" stroke-width="0.3">7</text>
<text x="379.7" y="503.6" font-size="11" text-anchor="start" font-weight="normal" fill="#111" stroke="#111" stroke-width="0.45">U4B</text>
<text x="290.1" y="534.7" font-size="9" text-anchor="middle" font-weight="normal" fill="#111" stroke="#111" stroke-width="0.3">C116</text>
<text x="290.2" y="558.3" font-size="9" text-anchor="middle" font-weight="normal" fill="#111" stroke="#111" stroke-width="0.3">u33</text>
<text x="338" y="534.7" font-size="9" text-anchor="middle" font-weight="normal" fill="#111" stroke="#111" stroke-width="0.3">C115</text>
<text x="338" y="558.3" font-size="9" text-anchor="middle" font-weight="normal" fill="#111" stroke="#111" stroke-width="0.3">u0047</text>
<text x="393.9" y="534.5" font-size="9" text-anchor="middle" font-weight="normal" fill="#111" stroke="#111" stroke-width="0.3">R131</text>
<text x="393.9" y="558.3" font-size="9" text-anchor="middle" font-weight="normal" fill="#111" stroke="#111" stroke-width="0.3">100K</text>
<polyline points="202.2,623.2 214,623.2" fill="none" stroke="#1a1a1a" stroke-width="1.4"/>
<polyline points="214,623.2 216.03,627.2 220.1,619.6 224.17,627.2 228.23,619.6 232.3,627.2 236.37,619.6 238.4,623.2" fill="none" stroke="#1a1a1a" stroke-width="1.4"/>
<polyline points="238.4,623.2 250.2,623.2" fill="none" stroke="#1a1a1a" stroke-width="1.4"/>
<path d="M226.2,627.6 L224.6,631.2 L227.8,631.2 Z" fill="none" stroke="#1a1a1a" stroke-width="1.1"/>
<line x1="226.2" y1="631.2" x2="226.2" y2="663.5" stroke="#3a3a3a" stroke-width="1.3"/>
<path d="M217.6,635.6 L220.8,634 L220.8,637.2 Z" fill="#111" stroke="#1a1a1a" stroke-width="1.0"/>
<polyline points="220.6,635.6 224.1,635.6" fill="none" stroke="#1a1a1a" stroke-width="1.2"/>
<polyline points="226.2,663.5 246,663.5" fill="none" stroke="#1a1a1a" stroke-width="1.4"/>
<path d="M246,663.5 C247,659.7 248.7,659.7 250.2,659.7 C251.7,659.7 253.4,659.7 254.4,663.5" fill="none" stroke="#1a1a1a" stroke-width="1.4"/>
<polyline points="254.4,663.5 288.8,663.5" fill="none" stroke="#1a1a1a" stroke-width="1.4"/>
<polyline points="288.8,657.2 288.8,669.8" fill="none" stroke="#1a1a1a" stroke-width="1.3"/>
<polyline points="291.8,657.2 291.8,669.8" fill="none" stroke="#1a1a1a" stroke-width="1.3"/>
<polyline points="291.8,663.5 336.4,663.5" fill="none" stroke="#1a1a1a" stroke-width="1.4"/>
<polyline points="336.4,657.2 336.4,669.8" fill="none" stroke="#1a1a1a" stroke-width="1.3"/>
<polyline points="339.8,657.2 339.8,669.8" fill="none" stroke="#1a1a1a" stroke-width="1.3"/>
<polyline points="339.8,663.5 382.2,663.5" fill="none" stroke="#1a1a1a" stroke-width="1.4"/>
<polyline points="382.2,663.5 384.22,667.5 388.25,659.9 392.28,667.5 396.32,659.9 400.35,667.5 404.38,659.9 406.4,663.5" fill="none" stroke="#1a1a1a" stroke-width="1.4"/>
<line x1="314.3" y1="663.5" x2="314.3" y2="619.5" stroke="#3a3a3a" stroke-width="1.3"/>
<polyline points="314.3,594.7 310,596.77 318.1,600.9 310,605.03 318.1,609.17 310,613.3 318.1,617.43 314.3,619.5" fill="none" stroke="#1a1a1a" stroke-width="1.4"/>
<line x1="314.3" y1="594.7" x2="314.3" y2="579.4" stroke="#3a3a3a" stroke-width="1.3"/>
<polyline points="314.3,579.4 425.8,579.4" fill="none" stroke="#1a1a1a" stroke-width="1.4" stroke-linecap="square"/>
<line x1="425.8" y1="579.4" x2="425.8" y2="619.6" stroke="#3a3a3a" stroke-width="1.3"/>
<polyline points="425.8,619.6 417.6,619.6" fill="none" stroke="#1a1a1a" stroke-width="1.4"/>
<line x1="362.1" y1="579.4" x2="362.1" y2="603.4" stroke="#3a3a3a" stroke-width="1.3"/>
<polyline points="362.1,603.4 374.3,603.4" fill="none" stroke="#1a1a1a" stroke-width="1.4"/>
<line x1="362.1" y1="663.5" x2="362.1" y2="635.7" stroke="#3a3a3a" stroke-width="1.3"/>
<polyline points="362.1,635.7 374.3,635.7" fill="none" stroke="#1a1a1a" stroke-width="1.4"/>
<line x1="374.3" y1="595.5" x2="374.3" y2="643.7" stroke="#3a3a3a" stroke-width="1.3"/>
<path d="M374.3,595.5 L417.6,619.6 L374.3,643.7" fill="none" stroke="#111" stroke-width="1.6" stroke-linejoin="miter"/>
<polyline points="376.2,603.4 380.4,603.4" fill="none" stroke="#1a1a1a" stroke-width="1.2"/>
<polyline points="376.6,635.8 380.6,635.8" fill="none" stroke="#1a1a1a" stroke-width="1.1"/>
<polyline points="378.6,633.8 378.6,637.8" fill="none" stroke="#1a1a1a" stroke-width="1.1"/>
<polyline points="406.4,663.5 434.2,663.5" fill="none" stroke="#1a1a1a" stroke-width="1.4"/>
<path d="M438.2,663.5 L434.2,661.7 L434.2,665.3 Z" fill="none" stroke="#1a1a1a" stroke-width="1.0"/>
<line x1="442.2" y1="634.8" x2="442.2" y2="651.1" stroke="#3a3a3a" stroke-width="1.3"/>
<polyline points="442.2,650.9 437.7,653 446.4,657.2 437.7,661.4 446.4,665.6 437.7,669.8 446.4,674 442.2,676.1" fill="none" stroke="#1a1a1a" stroke-width="1.4"/>
<line x1="442.2" y1="675.8" x2="442.2" y2="691.7" stroke="#3a3a3a" stroke-width="1.3"/>
<polyline points="438.6,691.5 445.8,691.5" fill="none" stroke="#1a1a1a" stroke-width="1.3"/>
<polyline points="439.9,693.5 444.5,693.5" fill="none" stroke="#1a1a1a" stroke-width="1.3"/>
<polyline points="441.1,695.5 443.3,695.5" fill="none" stroke="#1a1a1a" stroke-width="1.3"/>
<polyline points="429.9,666.3 429.9,670.3" fill="none" stroke="#1a1a1a" stroke-width="1.1"/>
<path d="M428.4,668.7 L431.4,668.7 L429.9,671.7 Z" fill="#111" stroke="#1a1a1a" stroke-width="0.8"/>
<text x="424.2" y="643.4" font-size="9" text-anchor="middle" font-weight="normal" fill="#111" stroke="#111" stroke-width="0.3">VR11</text>
<text x="424.4" y="654.5" font-size="9" text-anchor="middle" font-weight="normal" fill="#111" stroke="#111" stroke-width="0.3">1M</text>
<text x="170.2" y="621.4" font-size="9" text-anchor="middle" font-weight="normal" fill="#111" stroke="#111" stroke-width="0.3">PARA 1</text>
<text x="170" y="631.9" font-size="9" text-anchor="middle" font-weight="normal" fill="#111" stroke="#111" stroke-width="0.3">30 - 120</text>
<text x="226.3" y="604.9" font-size="9" text-anchor="middle" font-weight="normal" fill="#111" stroke="#111" stroke-width="0.3">VR4</text>
<text x="226" y="615" font-size="9" text-anchor="middle" font-weight="normal" fill="#111" stroke="#111" stroke-width="0.3">100K det</text>
<text x="321.4" y="607.1" font-size="9" text-anchor="start" font-weight="normal" fill="#111" stroke="#111" stroke-width="0.3">R130</text>
<text x="332.1" y="617" font-size="9" text-anchor="middle" font-weight="normal" fill="#111" stroke="#111" stroke-width="0.3">1K</text>
<text x="369.1" y="599.8" font-size="9" text-anchor="middle" font-weight="normal" fill="#111" stroke="#111" stroke-width="0.3">2</text>
<text x="369.1" y="631.7" font-size="9" text-anchor="middle" font-weight="normal" fill="#111" stroke="#111" stroke-width="0.3">3</text>
<text x="419.2" y="616.1" font-size="9" text-anchor="middle" font-weight="normal" fill="#111" stroke="#111" stroke-width="0.3">1</text>
<text x="379.7" y="623.7" font-size="11" text-anchor="start" font-weight="normal" fill="#111" stroke="#111" stroke-width="0.45">U3A</text>
<text x="290.1" y="654.8" font-size="9" text-anchor="middle" font-weight="normal" fill="#111" stroke="#111" stroke-width="0.3">C114</text>
<text x="290.2" y="678.4" font-size="9" text-anchor="middle" font-weight="normal" fill="#111" stroke="#111" stroke-width="0.3">1u5</text>
<text x="338" y="654.8" font-size="9" text-anchor="middle" font-weight="normal" fill="#111" stroke="#111" stroke-width="0.3">C113</text>
<text x="338" y="678.4" font-size="9" text-anchor="middle" font-weight="normal" fill="#111" stroke="#111" stroke-width="0.3">u015</text>
<text x="393.9" y="654.6" font-size="9" text-anchor="middle" font-weight="normal" fill="#111" stroke="#111" stroke-width="0.3">R129</text>
<text x="393.9" y="678.4" font-size="9" text-anchor="middle" font-weight="normal" fill="#111" stroke="#111" stroke-width="0.3">68K</text>
<polyline points="202.2,743.3 214,743.3" fill="none" stroke="#1a1a1a" stroke-width="1.4"/>
<polyline points="214,743.3 216.03,747.3 220.1,739.7 224.17,747.3 228.23,739.7 232.3,747.3 236.37,739.7 238.4,743.3" fill="none" stroke="#1a1a1a" stroke-width="1.4"/>
<polyline points="238.4,743.3 250.2,743.3" fill="none" stroke="#1a1a1a" stroke-width="1.4"/>
<path d="M226.2,747.7 L224.6,751.3 L227.8,751.3 Z" fill="none" stroke="#1a1a1a" stroke-width="1.1"/>
<line x1="226.2" y1="751.3" x2="226.2" y2="783.6" stroke="#3a3a3a" stroke-width="1.3"/>
<path d="M217.6,755.7 L220.8,754.1 L220.8,757.3 Z" fill="#111" stroke="#1a1a1a" stroke-width="1.0"/>
<polyline points="220.6,755.7 224.1,755.7" fill="none" stroke="#1a1a1a" stroke-width="1.2"/>
<polyline points="226.2,783.6 246,783.6" fill="none" stroke="#1a1a1a" stroke-width="1.4"/>
<polyline points="246,783.6 288.8,783.6" fill="none" stroke="#1a1a1a" stroke-width="1.4"/>
<polyline points="288.8,777.3 288.8,789.9" fill="none" stroke="#1a1a1a" stroke-width="1.3"/>
<polyline points="291.8,777.3 291.8,789.9" fill="none" stroke="#1a1a1a" stroke-width="1.3"/>
<polyline points="291.8,783.6 336.4,783.6" fill="none" stroke="#1a1a1a" stroke-width="1.4"/>
<polyline points="336.4,777.3 336.4,789.9" fill="none" stroke="#1a1a1a" stroke-width="1.3"/>
<polyline points="339.8,777.3 339.8,789.9" fill="none" stroke="#1a1a1a" stroke-width="1.3"/>
<polyline points="339.8,783.6 382.2,783.6" fill="none" stroke="#1a1a1a" stroke-width="1.4"/>
<polyline points="382.2,783.6 384.22,787.6 388.25,780 392.28,787.6 396.32,780 400.35,787.6 404.38,780 406.4,783.6" fill="none" stroke="#1a1a1a" stroke-width="1.4"/>
<line x1="314.3" y1="783.6" x2="314.3" y2="739.6" stroke="#3a3a3a" stroke-width="1.3"/>
<polyline points="314.3,714.8 310,716.87 318.1,721 310,725.13 318.1,729.27 310,733.4 318.1,737.53 314.3,739.6" fill="none" stroke="#1a1a1a" stroke-width="1.4"/>
<line x1="314.3" y1="714.8" x2="314.3" y2="699.5" stroke="#3a3a3a" stroke-width="1.3"/>
<polyline points="314.3,699.5 425.8,699.5" fill="none" stroke="#1a1a1a" stroke-width="1.4" stroke-linecap="square"/>
<line x1="425.8" y1="699.5" x2="425.8" y2="739.7" stroke="#3a3a3a" stroke-width="1.3"/>
<polyline points="425.8,739.7 417.6,739.7" fill="none" stroke="#1a1a1a" stroke-width="1.4"/>
<line x1="362.1" y1="699.5" x2="362.1" y2="723.5" stroke="#3a3a3a" stroke-width="1.3"/>
<polyline points="362.1,723.5 374.3,723.5" fill="none" stroke="#1a1a1a" stroke-width="1.4"/>
<line x1="362.1" y1="783.6" x2="362.1" y2="755.8" stroke="#3a3a3a" stroke-width="1.3"/>
<polyline points="362.1,755.8 374.3,755.8" fill="none" stroke="#1a1a1a" stroke-width="1.4"/>
<line x1="374.3" y1="715.6" x2="374.3" y2="763.8" stroke="#3a3a3a" stroke-width="1.3"/>
<path d="M374.3,715.6 L417.6,739.7 L374.3,763.8" fill="none" stroke="#111" stroke-width="1.6" stroke-linejoin="miter"/>
<polyline points="376.2,723.5 380.4,723.5" fill="none" stroke="#1a1a1a" stroke-width="1.2"/>
<polyline points="376.6,755.9 380.6,755.9" fill="none" stroke="#1a1a1a" stroke-width="1.1"/>
<polyline points="378.6,753.9 378.6,757.9" fill="none" stroke="#1a1a1a" stroke-width="1.1"/>
<polyline points="406.4,783.6 425.8,783.6" fill="none" stroke="#1a1a1a" stroke-width="1.4" stroke-linecap="square"/>
<line x1="425.8" y1="783.6" x2="425.8" y2="804.3" stroke="#3a3a3a" stroke-width="1.3"/>
<polyline points="422.2,804.5 429.4,804.5" fill="none" stroke="#1a1a1a" stroke-width="1.3"/>
<polyline points="423.5,806.5 428.1,806.5" fill="none" stroke="#1a1a1a" stroke-width="1.3"/>
<polyline points="424.7,808.5 426.9,808.5" fill="none" stroke="#1a1a1a" stroke-width="1.3"/>
<text x="178.2" y="746.6" font-size="9" text-anchor="middle" font-weight="normal" fill="#111" stroke="#111" stroke-width="0.3">BASS</text>
<text x="226.3" y="725" font-size="9" text-anchor="middle" font-weight="normal" fill="#111" stroke="#111" stroke-width="0.3">VR3</text>
<text x="226" y="735.1" font-size="9" text-anchor="middle" font-weight="normal" fill="#111" stroke="#111" stroke-width="0.3">100K</text>
<text x="321.4" y="727.2" font-size="9" text-anchor="start" font-weight="normal" fill="#111" stroke="#111" stroke-width="0.3">R128</text>
<text x="332.1" y="737.1" font-size="9" text-anchor="middle" font-weight="normal" fill="#111" stroke="#111" stroke-width="0.3">1K</text>
<text x="369.1" y="719.9" font-size="9" text-anchor="middle" font-weight="normal" fill="#111" stroke="#111" stroke-width="0.3">6</text>
<text x="369.1" y="751.8" font-size="9" text-anchor="middle" font-weight="normal" fill="#111" stroke="#111" stroke-width="0.3">5</text>
<text x="419.2" y="736.2" font-size="9" text-anchor="middle" font-weight="normal" fill="#111" stroke="#111" stroke-width="0.3">7</text>
<text x="379.7" y="743.8" font-size="11" text-anchor="start" font-weight="normal" fill="#111" stroke="#111" stroke-width="0.45">U3B</text>
<text x="290.1" y="774.9" font-size="9" text-anchor="middle" font-weight="normal" fill="#111" stroke="#111" stroke-width="0.3">C112</text>
<text x="290.2" y="798.5" font-size="9" text-anchor="middle" font-weight="normal" fill="#111" stroke="#111" stroke-width="0.3">4u7</text>
<text x="338" y="774.9" font-size="9" text-anchor="middle" font-weight="normal" fill="#111" stroke="#111" stroke-width="0.3">C111</text>
<text x="338" y="798.5" font-size="9" text-anchor="middle" font-weight="normal" fill="#111" stroke="#111" stroke-width="0.3">u01</text>
<text x="393.9" y="774.7" font-size="9" text-anchor="middle" font-weight="normal" fill="#111" stroke="#111" stroke-width="0.3">R127</text>
<text x="393.9" y="798.5" font-size="9" text-anchor="middle" font-weight="normal" fill="#111" stroke="#111" stroke-width="0.3">180K</text>
<polyline points="202.2,743.4 202.2,771.8" fill="none" stroke="#4a4aff" stroke-width="1.2"/>
<polyline points="202.2,787.4 197.9,789.42 206,793.45 197.9,797.48 206,801.52 197.9,805.55 206,809.58 202.2,811.6" fill="none" stroke="#1a1a1a" stroke-width="1.4"/>
<line x1="202.2" y1="811.6" x2="202.2" y2="827.6" stroke="#3a3a3a" stroke-width="1.3"/>
<polyline points="198.6,827.5 205.8,827.5" fill="none" stroke="#1a1a1a" stroke-width="1.3"/>
<polyline points="199.9,829.5 204.5,829.5" fill="none" stroke="#1a1a1a" stroke-width="1.3"/>
<polyline points="201.1,831.5 203.3,831.5" fill="none" stroke="#1a1a1a" stroke-width="1.3"/>
<text x="209.4" y="799.5" font-size="9" text-anchor="start" font-weight="normal" fill="#111" stroke="#111" stroke-width="0.3">R142</text>
<text x="220" y="809.1" font-size="9" text-anchor="middle" font-weight="normal" fill="#111" stroke="#111" stroke-width="0.3">15K</text>
<circle cx="34.2" cy="123.1" r="2.6" fill="#0000ff"/>
<circle cx="50.4" cy="123.1" r="2.6" fill="#0000ff"/>
<circle cx="202.4" cy="123" r="2.6" fill="#0000ff"/>
<circle cx="270.5" cy="99" r="2.6" fill="#0000ff"/>
<circle cx="290.1" cy="99" r="2.6" fill="#0000ff"/>
<circle cx="354.1" cy="99" r="2.6" fill="#0000ff"/>
<circle cx="354.1" cy="139" r="2.6" fill="#0000ff"/>
<circle cx="202.3" cy="219" r="2.6" fill="#0000ff"/>
<circle cx="473.8" cy="139" r="2.3" fill="#0000ff"/>
<circle cx="522" cy="203.2" r="2.3" fill="#0000ff"/>
<circle cx="569.7" cy="203.2" r="2.3" fill="#0000ff"/>
<circle cx="545.8" cy="242.9" r="2.5" fill="#0000ff"/>
<circle cx="617.6" cy="242.9" r="2.5" fill="#0000ff"/>
<circle cx="617.6" cy="291" r="2.5" fill="#0000ff"/>
<circle cx="202.2" cy="262.9" r="2.1" fill="#0000ff"/>
<circle cx="250.3" cy="262.9" r="2.1" fill="#0000ff"/>
<circle cx="314.2" cy="303.2" r="2.1" fill="#0000ff"/>
<circle cx="362.1" cy="303.2" r="2.1" fill="#0000ff"/>
<circle cx="362.1" cy="219.1" r="2.1" fill="#0000ff"/>
<circle cx="202.2" cy="383" r="2.1" fill="#0000ff"/>
<circle cx="250.3" cy="383" r="2.1" fill="#0000ff"/>
<circle cx="314.2" cy="423.3" r="2.1" fill="#0000ff"/>
<circle cx="362.1" cy="423.3" r="2.1" fill="#0000ff"/>
<circle cx="362.1" cy="339.2" r="2.1" fill="#0000ff"/>
<circle cx="202.2" cy="503.1" r="2.1" fill="#0000ff"/>
<circle cx="250.3" cy="503.1" r="2.1" fill="#0000ff"/>
<circle cx="314.2" cy="543.4" r="2.1" fill="#0000ff"/>
<circle cx="362.1" cy="543.4" r="2.1" fill="#0000ff"/>
<circle cx="362.1" cy="459.3" r="2.1" fill="#0000ff"/>
<circle cx="202.2" cy="623.2" r="2.1" fill="#0000ff"/>
<circle cx="250.3" cy="623.2" r="2.1" fill="#0000ff"/>
<circle cx="314.2" cy="663.5" r="2.1" fill="#0000ff"/>
<circle cx="362.1" cy="663.5" r="2.1" fill="#0000ff"/>
<circle cx="362.1" cy="579.4" r="2.1" fill="#0000ff"/>
<circle cx="202.2" cy="743.3" r="2.1" fill="#0000ff"/>
<circle cx="314.2" cy="783.6" r="2.1" fill="#0000ff"/>
<circle cx="362.1" cy="783.6" r="2.1" fill="#0000ff"/>
<circle cx="362.1" cy="699.5" r="2.1" fill="#0000ff"/>
</svg>
</body></html>
